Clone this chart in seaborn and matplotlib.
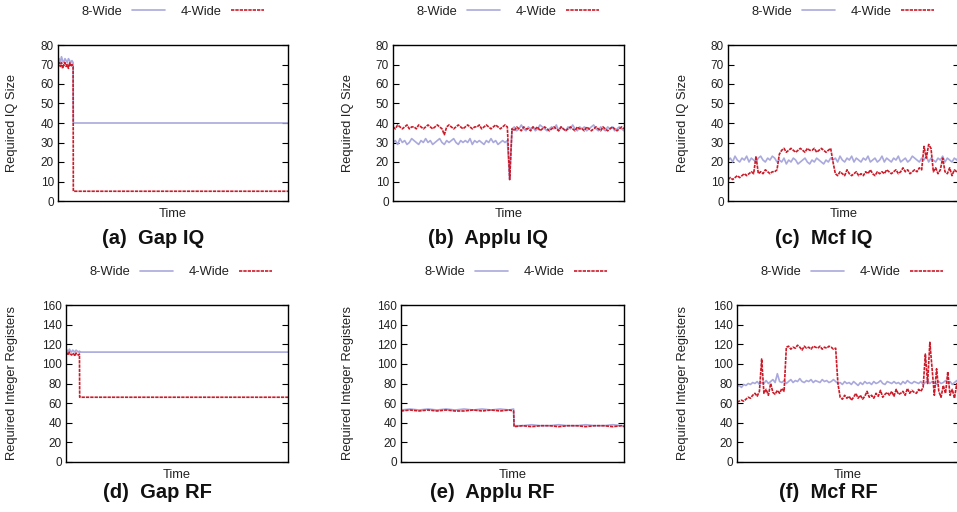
import matplotlib
matplotlib.use("Agg")
import matplotlib.pyplot as plt
import seaborn as sns
import pandas as pd

# ---------------- data ----------------
series_labels = ["8-Wide", "4-Wide"]
panel_titles = ["(a)  Gap IQ", "(b)  Applu IQ", "(c)  Mcf IQ",
                "(d)  Gap RF", "(e)  Applu RF", "(f)  Mcf RF"]
iq_ticks = [0, 10, 20, 30, 40, 50, 60, 70, 80]
rf_ticks = [0, 20, 40, 60, 80, 100, 120, 140, 160]

# Gap IQ
gap_iq_time = [0, 0.5, 1, 1.5, 2, 2.5, 3, 3.5, 4, 4.5, 5, 5.5, 6, 6.5, 6.6, 99]
gap_iq_8wide = [72, 73, 71, 74, 72, 71, 73, 72, 71, 73, 72, 71, 72, 71, 40, 40]
gap_iq_4wide = [70, 71, 69, 71, 68, 70, 71, 69, 70, 68, 71, 69, 70, 69, 5, 5]

# Applu IQ
applu_iq_time = list(range(100))
applu_iq_8wide = [30, 31, 29, 32, 30, 31, 29, 30, 32, 31,
                  30, 29, 31, 30, 32, 30, 31, 29, 30, 31,
                  32, 30, 29, 31, 30, 31, 32, 30, 29, 31,
                  30, 31, 30, 32, 29, 31, 30, 31, 30, 29,
                  31, 30, 32, 30, 31, 29, 30, 31, 30, 31,
                  11, 37, 38, 36, 37, 39, 37, 36, 38, 37,
                  38, 36, 37, 39, 38, 37, 36, 37, 38, 37,
                  39, 36, 38, 37, 36, 38, 37, 39, 37, 36,
                  38, 37, 38, 36, 37, 38, 39, 37, 36, 38,
                  37, 36, 38, 37, 38, 36, 37, 38, 37, 36]
applu_iq_4wide = [38, 37, 39, 38, 37, 38, 39, 37, 38, 38,
                  37, 39, 38, 37, 38, 39, 38, 37, 38, 39,
                  38, 37, 34, 38, 39, 38, 37, 38, 39, 38,
                  37, 38, 39, 38, 37, 38, 38, 39, 37, 38,
                  39, 38, 37, 38, 39, 38, 37, 38, 39, 38,
                  11, 37, 36, 38, 37, 36, 38, 37, 37, 36,
                  38, 37, 38, 36, 37, 38, 37, 36, 37, 38,
                  37, 36, 38, 37, 36, 37, 38, 37, 36, 38,
                  37, 37, 36, 38, 37, 36, 37, 38, 37, 36,
                  38, 37, 36, 37, 38, 37, 36, 37, 38, 37]

# Mcf IQ
mcf_iq_time = list(range(100))
mcf_iq_8wide = [21, 22, 20, 23, 21, 20, 22, 21, 23, 20,
                22, 21, 20, 22, 23, 21, 20, 22, 21, 23,
                22, 20, 21, 20, 22, 19, 21, 20, 22, 21,
                19, 20, 21, 22, 20, 19, 21, 20, 22, 21,
                20, 19, 21, 20, 22, 21, 22, 20, 23, 21,
                20, 22, 21, 23, 20, 22, 21, 20, 22, 21,
                23, 20, 21, 22, 20, 21, 23, 20, 22, 21,
                20, 22, 21, 23, 20, 21, 22, 20, 21, 23,
                22, 21, 20, 22, 21, 23, 20, 22, 21, 20,
                22, 21, 23, 20, 22, 21, 20, 22, 21, 23]
mcf_iq_4wide = [11, 12, 11, 12, 13, 12, 13, 14, 13, 14,
                15, 14, 23, 14, 15, 14, 16, 15, 14, 15,
                15, 16, 24, 26, 27, 25, 26, 27, 26, 25,
                26, 27, 26, 25, 27, 26, 26, 27, 25, 26,
                27, 26, 25, 26, 27, 20, 14, 13, 15, 14,
                13, 16, 14, 13, 14, 15, 13, 14, 13, 15,
                14, 16, 14, 13, 15, 14, 15, 14, 16, 15,
                14, 15, 16, 14, 15, 17, 15, 16, 14, 15,
                16, 15, 17, 16, 28, 22, 29, 27, 15, 17,
                14, 16, 22, 15, 14, 17, 13, 16, 15, 14]

# Gap RF
gap_rf_time = [0, 0.5, 1, 1.5, 2, 2.5, 3, 3.5, 4, 4.5, 5, 5.5, 6, 6.1, 99]
gap_rf_8wide = [113, 114, 112, 115, 113, 112, 114, 113, 112, 114, 113, 112, 113, 112, 112]
gap_rf_4wide = [110, 111, 109, 112, 110, 109, 111, 110, 108, 111, 110, 109, 110, 66, 66]

# Applu RF
applu_rf_time = [0, 4, 8, 12, 16, 20, 24, 28, 32, 36, 40, 44, 48, 50, 50.2,
                 54, 58, 62, 66, 70, 74, 78, 82, 86, 90, 94, 98, 99]
applu_rf_8wide = [53, 54, 53, 54, 53, 54, 53, 54, 53, 54, 53, 54, 53, 54, 37,
                  37, 38, 37, 37, 38, 37, 37, 38, 37, 37, 38, 37, 37]
applu_rf_4wide = [52, 53, 52, 53, 52, 53, 52, 52, 53, 52, 53, 52, 53, 52, 36,
                  37, 36, 37, 37, 36, 37, 37, 36, 37, 37, 36, 37, 36]

# Mcf RF
mcf_rf_time = list(range(100))
mcf_rf_8wide = [77, 78, 76, 79, 78, 80, 79, 81, 80, 82,
                79, 81, 80, 83, 80, 82, 84, 81, 90, 82,
                81, 83, 80, 82, 84, 81, 83, 82, 85, 82,
                81, 83, 82, 84, 81, 83, 82, 81, 84, 82,
                83, 81, 82, 84, 82, 80, 81, 79, 82, 80,
                81, 79, 82, 80, 78, 81, 79, 82, 80, 81,
                79, 82, 80, 81, 83, 80, 79, 82, 81, 80,
                82, 80, 81, 79, 82, 80, 83, 81, 80, 82,
                81, 80, 82, 79, 81, 83, 80, 82, 81, 79,
                82, 80, 81, 83, 80, 82, 79, 81, 83, 80]
mcf_rf_4wide = [61, 62, 63, 62, 64, 66, 65, 68, 70, 67,
                72, 105, 70, 74, 68, 80, 71, 69, 73, 70,
                75, 72, 117, 118, 115, 117, 116, 119, 117, 114,
                118, 116, 117, 115, 118, 117, 116, 118, 115, 117,
                116, 118, 117, 115, 116, 80, 66, 64, 68, 65,
                67, 63, 66, 70, 65, 68, 64, 67, 72, 66,
                68, 65, 70, 67, 73, 66, 69, 71, 68, 72,
                67, 74, 69, 70, 72, 68, 75, 70, 73, 71,
                70, 74, 72, 76, 110, 80, 122, 95, 68, 95,
                72, 66, 78, 70, 92, 68, 74, 65, 80, 66]

# ---------------- style ----------------
sns.set_theme(style="white")
plt.rcParams["font.family"] = ["Liberation Sans", "DejaVu Sans"]
plt.rcParams["axes.unicode_minus"] = False

C8 = "#a9a9dd"
C4 = "#cc1a28"
W, H = 957, 512
fig = plt.figure(figsize=(W / 100, H / 100), dpi=100)
fig.patch.set_facecolor("white")

panels = [
    # (left px, top px, width px, height px, ylabel x px, time, s8, s4, yticks, ymax, ylabel)
    (58, 45, 230, 156, 12, gap_iq_time, gap_iq_8wide, gap_iq_4wide, iq_ticks, 80, "Required IQ Size"),
    (393, 45, 231, 156, 348, applu_iq_time, applu_iq_8wide, applu_iq_4wide, iq_ticks, 80, "Required IQ Size"),
    (728, 45, 231, 156, 683, mcf_iq_time, mcf_iq_8wide, mcf_iq_4wide, iq_ticks, 80, "Required IQ Size"),
    (66, 305, 222, 157, 12, gap_rf_time, gap_rf_8wide, gap_rf_4wide, rf_ticks, 160, "Required Integer Registers"),
    (401, 305, 223, 157, 348, applu_rf_time, applu_rf_8wide, applu_rf_4wide, rf_ticks, 160, "Required Integer Registers"),
    (737, 305, 222, 157, 683, mcf_rf_time, mcf_rf_8wide, mcf_rf_4wide, rf_ticks, 160, "Required Integer Registers"),
]

for i, (lx, ty, wx, hy, ylx, t, s8, s4, yt, ymax, ylab) in enumerate(panels):
    ax = fig.add_axes([lx / W, 1 - (ty + hy) / H, wx / W, hy / H])
    df8 = pd.DataFrame({"Time": t, "v": s8})
    df4 = pd.DataFrame({"Time": t, "v": s4})
    sns.lineplot(data=df8, x="Time", y="v", ax=ax, color=C8, lw=1.8,
                 label=series_labels[0], estimator=None)
    sns.lineplot(data=df4, x="Time", y="v", ax=ax, color=C4, lw=1.3,
                 linestyle=(0, (2, 0.6)), label=series_labels[1], estimator=None)
    ax.set_xlim(min(t), max(t))
    ax.set_ylim(0, ymax)
    ax.set_yticks(yt)
    ax.set_yticklabels([str(v) for v in yt], fontsize=8.5, color="#222222")
    ax.set_xticks([])
    ax.tick_params(axis="y", direction="in", left=True, right=True,
                   length=4, width=0.8, color="black", pad=3)
    for sp in ax.spines.values():
        sp.set_visible(True)
        sp.set_color("black")
        sp.set_linewidth(1.0)
    ax.set_xlabel("")
    ax.set_ylabel("")
    handles, labels = ax.get_legend_handles_labels()
    ax.get_legend().remove()

    fig.text(ylx / W, 1 - (ty + hy / 2) / H, ylab, rotation=90, ha="center",
             va="center", fontsize=9.3, color="#222222")

    cx = lx + wx / 2
    if i < 3:
        ly, time_y, title_y = 12, 214, 238
    else:
        ly, time_y, title_y = 272, 475, 493
    for h in handles:
        h.set_linewidth(1.2)
    leg = fig.legend(handles, labels, loc="center",
                     bbox_to_anchor=((lx + 115) / W, 1 - ly / H),
                     ncol=2, frameon=False, markerfirst=False,
                     fontsize=9.3, handlelength=2.6, handletextpad=0.7,
                     columnspacing=1.2, borderaxespad=0)
    for txt in leg.get_texts():
        txt.set_color("#222222")
    fig.text(cx / W, 1 - time_y / H, "Time", ha="center", va="center",
             fontsize=9.3, color="#222222")
    fig.text((cx - 20) / W, 1 - title_y / H, panel_titles[i], ha="center",
             va="center", fontsize=14.5, fontweight="bold", color="#111111")

fig.savefig("out.png", dpi=100, facecolor="white")
